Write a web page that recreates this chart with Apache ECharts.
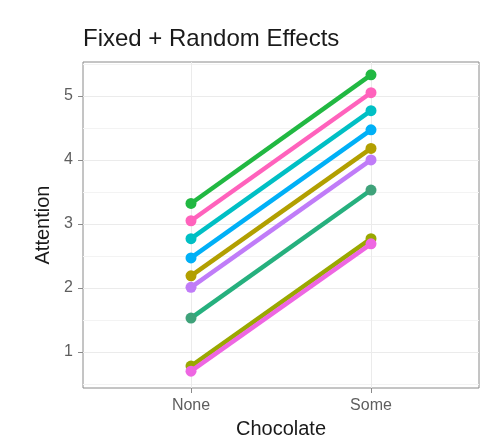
<!DOCTYPE html>
<html>
<head>
<meta charset="utf-8">
<script src="https://cdn.jsdelivr.net/npm/echarts@6/dist/echarts.min.js"></script>
<style>
html,body{margin:0;padding:0;background:#fff;}
#chart{width:498px;height:448px;}
</style>
</head>
<body>
<div id="chart"></div>
<script>
// ---- data ----
const categories = ['None', 'Some'];
const noneValues = [3.32, 3.05, 2.77, 2.47, 2.19, 2.01, 1.53, 0.78, 0.70];
const someValues = [5.33, 5.05, 4.77, 4.47, 4.18, 4.00, 3.53, 2.77, 2.69];
const yTicks = [1, 2, 3, 4, 5];
const xTicks = [0, 1];
const groupColors = ['#21B842', '#FF62BC', '#00BFC4', '#00B0F6', '#B29F00',
                     '#C07CF8', '#26B07E', '#9AA800', '#EE66E2'];
const pointColors = ['#21B842', '#FF62BC', '#00BFC4', '#00B0F6', '#B29F00',
                     '#C07CF8', '#3FA27A', '#9AA800', '#EE66E2'];

const FONT = 'Liberation Sans, Arial, sans-serif';
const chart = echarts.init(document.getElementById('chart'), null, {renderer: 'canvas'});

const series = noneValues.map((v, i) => ({
  type: 'line',
  data: [[0, v], [1, someValues[i]]],
  symbol: 'circle',
  symbolSize: 11,
  showAllSymbol: true,
  lineStyle: {width: 4.5, color: groupColors[i]},
  itemStyle: {color: pointColors[i]},
  emphasis: {disabled: true},
  z: 2 + i
}));

chart.setOption({
  animation: false,
  backgroundColor: '#ffffff',
  title: {
    text: 'Fixed + Random Effects',
    left: 83, top: 27, padding: 0,
    textStyle: {fontFamily: FONT, fontSize: 24, fontWeight: 'normal', color: '#1a1a1a'}
  },
  grid: {
    left: 83, right: 19, top: 62, bottom: 60,
    show: true, borderColor: '#8a8a8a', borderWidth: 1, backgroundColor: 'transparent'
  },
  xAxis: {
    type: 'value',
    min: -0.6, max: 1.6, splitNumber: 2,
    name: 'Chocolate', nameLocation: 'middle', nameGap: 31,
    nameTextStyle: {fontFamily: FONT, fontSize: 20, color: '#1a1a1a'},
    axisLine: {show: false, onZero: false},
    axisTick: {show: true, length: 5, customValues: xTicks, lineStyle: {color: '#8a8a8a'}},
    axisLabel: {
      customValues: xTicks, margin: 10,
      fontFamily: FONT, fontSize: 16, color: '#5e5e5e',
      formatter: v => categories[Math.round(v)] || ''
    },
    splitLine: {show: true, lineStyle: {color: '#ebebeb', width: 1}},
    minorSplitLine: {show: false}
  },
  yAxis: {
    type: 'value',
    min: 0.4375, max: 5.53, splitNumber: 5,
    name: 'Attention', nameLocation: 'middle', nameGap: 25, nameRotate: 90,
    nameTextStyle: {fontFamily: FONT, fontSize: 20, color: '#1a1a1a'},
    axisLine: {show: false, onZero: false},
    axisTick: {show: true, length: 5, customValues: yTicks, lineStyle: {color: '#8a8a8a'}},
    axisLabel: {
      customValues: yTicks, margin: 10,
      fontFamily: FONT, fontSize: 16, color: '#5e5e5e'
    },
    splitLine: {show: true, lineStyle: {color: '#ebebeb', width: 1}},
    minorTick: {show: false, splitNumber: 2},
    minorSplitLine: {show: true, lineStyle: {color: '#f3f3f3', width: 1}}
  },
  series: series
});
</script>
</body>
</html>
